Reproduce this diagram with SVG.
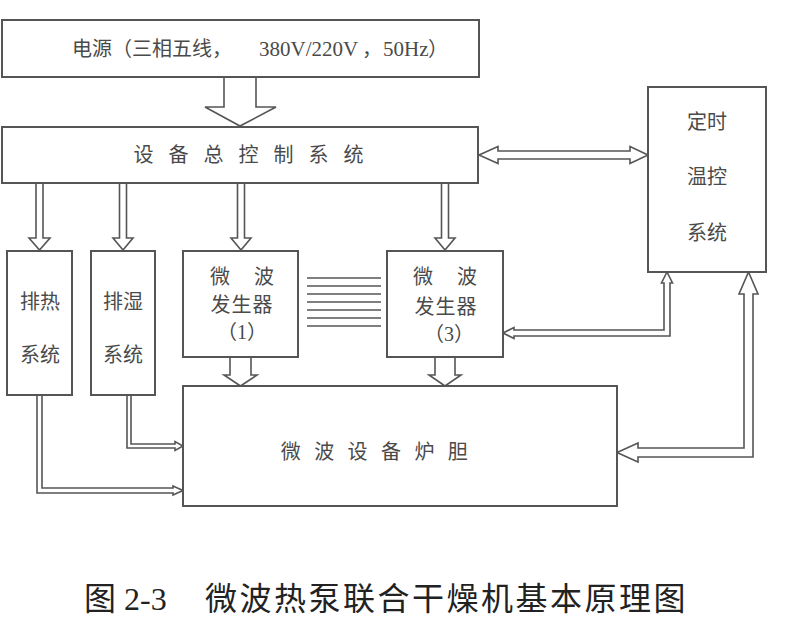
<svg xmlns="http://www.w3.org/2000/svg" width="794" height="625" viewBox="0 0 794 625">
<style>
.box{fill:#fff;stroke:#555;stroke-width:2}
.arr{fill:#fff;stroke:#555;stroke-width:1.6;stroke-linejoin:miter}
.hl{stroke:#555;stroke-width:1.6}
.t{font-family:"Liberation Serif","Noto Sans CJK SC",serif;font-size:20px;fill:#4a4a4a}
.c{text-anchor:middle}
.cap{font-family:"Liberation Serif","Noto Sans CJK SC",serif;font-size:32px;fill:#222}
</style>
<rect width="794" height="625" fill="#fff"/>
<g id="connectors">
<polygon class="arr" points="224,77 224,107 205,107 240,126 276,107 256,107 256,77"/>
<polygon class="arr" points="36,183 36,238 29,238 39.5,250 50,238 43,238 43,183"/>
<polygon class="arr" points="119.5,183 119.5,238 113,238 123,250 133,238 126.5,238 126.5,183"/>
<polygon class="arr" points="237.5,183 237.5,238 231,238 241,250 251,238 244.5,238 244.5,183"/>
<polygon class="arr" points="441.5,183 441.5,238 435,238 445,250 455,238 448.5,238 448.5,183"/>
<polygon class="arr" points="230,357 230,375 224,375 240.5,386 257,375 251,375 251,357"/>
<polygon class="arr" points="435,357 435,375 429,375 445,386 461,375 455,375 455,357"/>
<polygon class="arr" points="479,155 498,146.5 498,151 630,151 630,146.5 648,155 630,163.5 630,159 498,159 498,163.5"/>
<polygon class="arr" points="503,333 514,327.5 514,330 664,330 664,283 661.5,283 667,272 672.5,283 670,283 670,336 514,336 514,338.5"/>
<polygon class="arr" points="617,452.5 638,443 638,448 744,448 744,294 739,294 748.5,272 758,294 753,294 753,457 638,457 638,462"/>
<polygon class="arr" points="37,395 37,493 173,493 173,495 183,490.5 173,486 173,488 42,488 42,395"/>
<polygon class="arr" points="127,395 127,448 175,448 175,450.5 183,446 175,441.5 175,444 131,444 131,395"/>
<g id="waves">
<line class="hl" x1="307" y1="278" x2="381" y2="278"/>
<line class="hl" x1="307" y1="286" x2="381" y2="286"/>
<line class="hl" x1="307" y1="294" x2="381" y2="294"/>
<line class="hl" x1="307" y1="302" x2="381" y2="302"/>
<line class="hl" x1="307" y1="310" x2="381" y2="310"/>
<line class="hl" x1="307" y1="318" x2="381" y2="318"/>
<line class="hl" x1="307" y1="326" x2="381" y2="326"/>
</g>
</g>
<g id="power">
<rect class="box" x="2" y="20" width="477" height="57"/>
<text class="t" y="56"><tspan x="72">电源（三相五线，</tspan><tspan x="259" font-size="21">380V/220V</tspan><tspan x="362">，</tspan><tspan x="383" font-size="21">50Hz</tspan><tspan x="428">）</tspan></text>
</g>
<g id="control">
<rect class="box" x="2" y="127" width="476" height="56"/>
<text class="t c" x="256" y="162" font-size="19" letter-spacing="15">设备总控制系统</text>
</g>
<g id="timer">
<rect class="box" x="648" y="87" width="118" height="185"/>
<text class="t c" x="707" y="129">定时</text>
<text class="t c" x="707" y="184">温控</text>
<text class="t c" x="707" y="240">系统</text>
</g>
<g id="heat">
<rect class="box" x="7" y="251" width="65" height="144"/>
<text class="t c" x="40" y="309">排热</text>
<text class="t c" x="40" y="362">系统</text>
</g>
<g id="humid">
<rect class="box" x="91" y="251" width="64" height="144"/>
<text class="t c" x="123" y="309">排湿</text>
<text class="t c" x="123" y="362">系统</text>
</g>
<g id="gen1">
<rect class="box" x="183" y="251" width="115" height="106"/>
<text class="t c" x="220" y="284">微</text>
<text class="t c" x="264" y="284">波</text>
<text class="t c" x="242" y="312" letter-spacing="1">发生器</text>
<text class="t c" x="242" y="339">（1）</text>
</g>
<g id="gen3">
<rect class="box" x="387" y="251" width="116" height="106"/>
<text class="t c" x="423" y="284">微</text>
<text class="t c" x="467" y="284">波</text>
<text class="t c" x="446" y="314" letter-spacing="1">发生器</text>
<text class="t c" x="449" y="341">（3）</text>
</g>
<g id="furnace">
<rect class="box" x="183" y="386" width="434" height="120"/>
<text class="t c" x="381" y="459" letter-spacing="13.4">微波设备炉胆</text>
</g>
<text class="cap" x="84" y="610">图 2-3</text>
<text class="cap" x="205" y="610" letter-spacing="2.5">微波热泵联合干燥机基本原理图</text>
</svg>
